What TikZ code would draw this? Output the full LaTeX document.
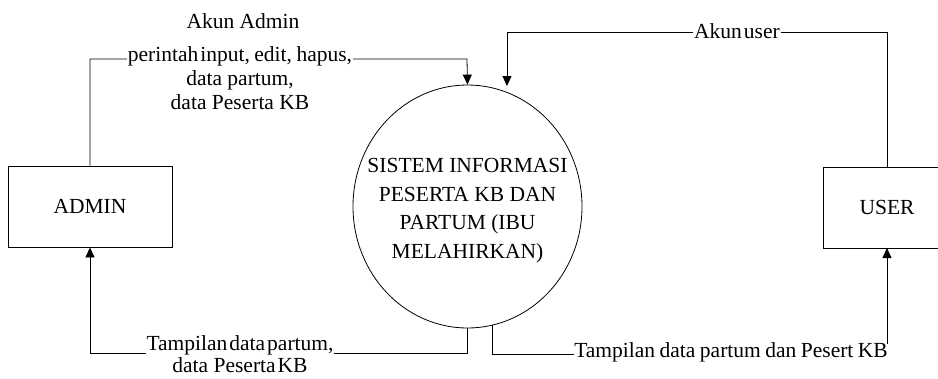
\documentclass[tikz,border=0pt]{standalone}
\usepackage{fontspec}
\setmainfont{Liberation Serif}
\usetikzlibrary{shapes.geometric,arrows.meta}
\newcommand\tsp{\hspace{2pt}}
\newcommand\wsp{\hspace{4.5pt}}
\begin{document}
\begin{tikzpicture}[x=1pt,y=-1pt,
  every node/.style={font=\fontsize{21.5}{28.5}\selectfont, inner sep=1pt},
  line/.style={line width=0.8pt},
  arr/.style={line width=0.8pt,-{Triangle[length=10pt,width=9pt]}},
  entity/.style={draw,line width=0.8pt,rectangle,inner sep=0pt},
  lbl/.style={fill=white,inner sep=1pt}]
\useasboundingbox (0,0) rectangle (938,378);
% nodes
\node[entity,minimum width=164pt,minimum height=81pt] (admin) at (90,206.5) {ADMIN};
\node[entity,minimum width=115pt,minimum height=81pt] (user) at (880.5,207.5) {};
\node (usertxt) at (887,207.5) {USER};
\node[draw,line width=0.8pt,ellipse,minimum width=229pt,minimum height=243pt,inner sep=0pt] (sys) at (467.5,206.5) {};
\node[align=center] (systxt) at (467.5,210.5)
 {SISTEM INFORMASI\\PESERTA KB DAN\\PARTUM (IBU\\MELAHIRKAN)};
% labels
\node (l1) at (243,21) {Akun Admin};
\node (l3) at (240,80) {data partum,};
\node (l4) at (240,102) {data Peserta KB};
\node (l7) at (240,365) {data Peserta\tsp KB};
\node[anchor=east,inner sep=0pt] (l8) at (888,352) {Tampilan\wsp data\wsp partum\wsp dan\wsp Pesert\wsp KB};
% coordinates
\coordinate (a1) at (90,59);
\coordinate (a2) at (467,59);
\coordinate (u0) at (887,167);
\coordinate (u1) at (887,32);
\coordinate (u2) at (507,32);
\coordinate (u3) at (507,86);
\coordinate (b0) at (467,328);
\coordinate (b1) at (467,353);
\coordinate (b2) at (90,353);
\coordinate (c0) at (492,324.5);
\coordinate (c1) at (492,354);
\coordinate (c3) at (887,344);
\coordinate (c4) at (887,248);
% connectors
\draw[arr] (admin.north) -- (a1) -- (a2) -- (sys.north);
\draw[arr] (u0) -- (u1) -- (u2) -- (u3);
\draw[arr] (b0) -- (b1) -- (b2) -- (admin.south);
\draw[line] (c0) -- (c1) -- (l8.west |- c1);
\draw[arr] (c3) -- (c4);
% labels that sit on lines
\node[lbl] (l2) at (240,56) {perintah\tsp input,\wsp edit,\wsp hapus,};
\node[lbl] (l5) at (737,31) {Akun\tsp user};
\node[lbl] (l6) at (240,345) {Tampilan\tsp data\tsp partum,};
\end{tikzpicture}
\end{document}
